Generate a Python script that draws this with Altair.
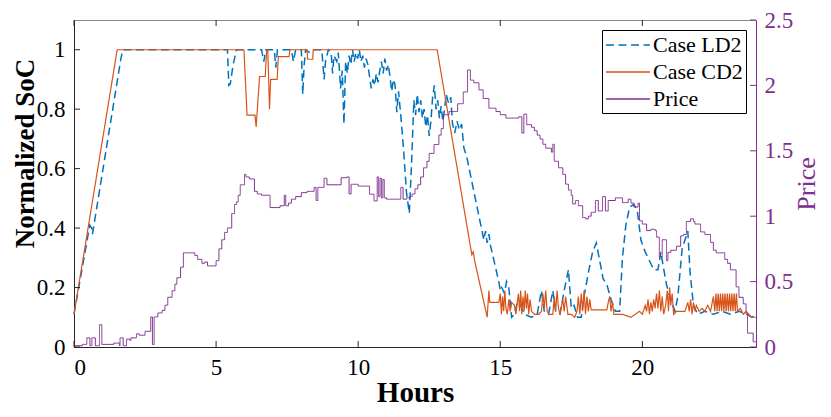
import altair as alt
import pandas as pd

# ---------------- data ----------------
ld2_points = [
    (0, 0.11), (0.5, 0.38), (0.55, 0.41), (0.62, 0.40), (0.65, 0.38), (1.65, 0.97), (1.72, 1.0),
    (5.4, 1.0), (5.45, 0.88), (5.5, 0.885), (5.6, 0.95), (5.72, 1.0), (6.6, 1.0), (6.68, 0.96),
    (6.75, 1.0), (7.05, 1.0), (7.1, 0.94), (7.16, 1.0), (7.65, 1.0), (7.72, 0.96), (7.8, 1.0),
    (8.0, 1.0), (8.05, 0.85), (8.1, 0.95), (8.15, 1.0), (8.3, 0.99), (8.45, 1.0), (8.72, 1.0),
    (8.8, 0.90), (8.85, 0.96), (8.95, 1.0), (9.05, 0.99), (9.1, 0.92), (9.15, 0.98), (9.25, 0.96),
    (9.3, 0.99), (9.38, 0.87), (9.44, 0.93), (9.5, 0.75), (9.56, 0.96), (9.62, 0.92), (9.68, 0.98),
    (9.74, 0.95), (9.8, 1.0), (9.86, 0.96), (9.92, 0.99), (9.98, 0.97), (10.04, 1.0), (10.1, 0.96),
    (10.16, 0.98), (10.22, 0.94), (10.28, 0.97), (10.34, 0.95), (10.4, 0.91), (10.46, 0.87),
    (10.52, 0.90), (10.58, 0.88), (10.64, 0.92), (10.7, 0.89), (10.76, 0.93), (10.82, 0.96),
    (10.88, 0.92), (10.94, 0.97), (11.0, 0.93), (11.06, 0.95), (11.12, 0.91), (11.18, 0.86),
    (11.24, 0.90), (11.3, 0.88), (11.36, 0.79), (11.42, 0.86), (11.5, 0.78), (11.6, 0.66),
    (11.7, 0.52), (11.8, 0.45), (11.88, 0.62), (11.96, 0.83), (12.02, 0.78), (12.08, 0.85),
    (12.14, 0.79), (12.2, 0.83), (12.26, 0.77), (12.32, 0.80), (12.38, 0.74), (12.44, 0.78),
    (12.5, 0.71), (12.56, 0.76), (12.62, 0.84), (12.68, 0.88), (12.74, 0.80), (12.8, 0.83),
    (12.86, 0.77), (12.92, 0.81), (12.98, 0.76), (13.04, 0.80), (13.1, 0.85), (13.18, 0.82),
    (13.26, 0.84), (13.32, 0.75), (13.4, 0.72), (13.48, 0.76), (13.56, 0.73), (13.64, 0.75),
    (13.72, 0.67), (13.82, 0.64), (14.25, 0.44), (14.36, 0.39), (14.42, 0.36), (14.48, 0.39),
    (14.54, 0.35), (14.6, 0.38), (14.66, 0.34), (14.95, 0.22), (15.0, 0.19), (15.05, 0.20),
    (15.15, 0.18), (15.22, 0.22), (15.3, 0.20), (15.4, 0.10), (15.5, 0.11), (15.6, 0.15),
    (15.72, 0.14), (15.85, 0.11), (16.1, 0.10), (16.3, 0.11), (16.45, 0.19), (16.55, 0.12),
    (16.7, 0.11), (16.85, 0.19), (16.95, 0.12), (17.1, 0.11), (17.25, 0.19), (17.4, 0.26),
    (17.5, 0.13), (17.6, 0.14), (17.72, 0.10), (17.85, 0.10), (17.95, 0.17), (18.1, 0.25),
    (18.25, 0.32), (18.38, 0.35), (18.5, 0.29), (18.62, 0.23), (18.75, 0.21), (18.9, 0.16),
    (19.05, 0.12), (19.2, 0.12), (19.3, 0.30), (19.42, 0.41), (19.55, 0.47), (19.7, 0.48),
    (19.82, 0.46), (19.95, 0.36), (20.1, 0.32), (20.25, 0.29), (20.4, 0.26), (20.55, 0.26),
    (20.65, 0.32), (20.72, 0.28), (20.85, 0.21), (21.0, 0.16), (21.15, 0.12), (21.25, 0.17),
    (21.4, 0.33), (21.6, 0.39), (21.68, 0.25), (21.8, 0.14), (21.95, 0.11), (22.2, 0.12),
    (22.5, 0.11), (22.8, 0.12), (23.1, 0.11), (23.4, 0.12), (23.7, 0.11), (23.85, 0.10), (24.0, 0.11),
]

cd2_points = [
    (0, 0.11), (1.52, 1.0), (5.98, 1.0), (6.09, 0.78), (6.37, 0.78), (6.41, 0.74), (6.53, 0.91),
    (6.73, 0.91), (6.78, 1.0), (6.82, 1.0), (6.88, 0.80), (6.92, 0.90), (7.15, 0.90), (7.19, 0.977),
    (7.57, 0.977), (7.6, 1.0), (8.2, 1.0), (8.22, 0.968), (8.4, 0.968), (8.42, 1.0), (12.78, 1.0),
    (14.0, 0.31), (14.05, 0.32), (14.1, 0.29), (14.54, 0.10), (14.6, 0.19), (14.63, 0.15),
    (14.95, 0.15), (15.0, 0.18), (15.04, 0.11), (15.08, 0.17), (15.12, 0.12), (15.16, 0.19),
    (15.2, 0.13), (15.25, 0.11), (15.3, 0.16), (15.35, 0.12), (15.4, 0.15), (15.5, 0.14),
    (15.55, 0.11), (15.6, 0.15), (15.64, 0.18), (15.68, 0.12), (15.72, 0.19), (15.76, 0.11),
    (15.8, 0.17), (15.84, 0.12), (15.88, 0.19), (15.92, 0.13), (15.96, 0.18), (16.0, 0.11),
    (16.05, 0.16), (16.1, 0.12), (16.2, 0.11), (16.35, 0.11), (16.45, 0.12), (16.5, 0.18),
    (16.55, 0.13), (16.6, 0.19), (16.65, 0.12), (16.72, 0.11), (16.85, 0.11), (16.9, 0.17),
    (16.95, 0.12), (17.0, 0.19), (17.05, 0.13), (17.1, 0.11), (17.2, 0.16), (17.25, 0.12),
    (17.3, 0.17), (17.38, 0.11), (17.5, 0.11), (17.62, 0.10), (17.7, 0.12), (17.75, 0.17),
    (17.8, 0.11), (17.85, 0.18), (17.9, 0.12), (17.95, 0.19), (18.0, 0.11), (18.05, 0.17),
    (18.1, 0.12), (18.15, 0.16), (18.2, 0.125), (18.75, 0.125), (18.8, 0.15), (18.85, 0.17),
    (18.9, 0.12), (18.95, 0.15), (19.0, 0.11), (19.3, 0.11), (19.6, 0.10), (19.9, 0.12),
    (20.0, 0.11), (20.1, 0.14), (20.15, 0.12), (20.2, 0.16), (20.25, 0.11), (20.3, 0.15),
    (20.35, 0.12), (20.4, 0.16), (20.45, 0.13), (20.5, 0.18), (20.55, 0.13), (20.6, 0.19),
    (20.65, 0.12), (20.7, 0.17), (20.75, 0.11), (20.82, 0.14), (20.88, 0.19), (20.92, 0.12),
    (20.96, 0.20), (21.0, 0.14), (21.05, 0.18), (21.1, 0.11), (21.2, 0.12), (21.5, 0.12),
    (21.6, 0.15), (21.65, 0.12), (21.7, 0.16), (21.75, 0.11), (21.8, 0.15), (21.85, 0.12),
    (21.9, 0.14), (22.0, 0.12), (22.1, 0.13), (22.2, 0.12), (22.3, 0.14), (22.4, 0.12),
    (22.5, 0.17), (22.55, 0.12), (22.59, 0.18), (22.63, 0.12), (22.67, 0.18), (22.71, 0.12),
    (22.75, 0.18), (22.79, 0.12), (22.83, 0.18), (22.87, 0.12), (22.91, 0.18), (22.95, 0.12),
    (22.99, 0.18), (23.03, 0.12), (23.07, 0.18), (23.11, 0.12), (23.15, 0.18), (23.19, 0.12),
    (23.23, 0.18), (23.27, 0.12), (23.31, 0.18), (23.35, 0.12), (23.45, 0.13), (23.55, 0.11),
    (23.65, 0.12), (23.75, 0.11), (23.85, 0.10), (24.0, 0.10),
]

price_points = [
    (0, 0.01), (0.3, 0.02), (0.45, 0.07), (0.56, 0.01), (0.63, 0.07), (0.75, 0.01), (0.9, 0.17),
    (0.98, 0.02), (1.4, 0.03), (1.6, 0.01), (1.62, 0.07), (1.73, 0.01), (1.85, 0.06), (1.97, 0.05),
    (2.0, 0.07), (2.2, 0.10), (2.3, 0.09), (2.5, 0.12), (2.7, 0.23), (2.76, 0.02), (2.82, 0.23),
    (2.95, 0.26), (3.1, 0.28), (3.2, 0.32), (3.3, 0.38), (3.45, 0.43), (3.55, 0.48), (3.62, 0.53),
    (3.75, 0.61), (3.85, 0.72), (4.25, 0.70), (4.35, 0.67), (4.5, 0.64), (4.6, 0.65), (4.7, 0.62),
    (5.0, 0.66), (5.1, 0.75), (5.2, 0.82), (5.3, 0.876), (5.4, 0.91), (5.55, 1.02), (5.65, 1.09),
    (5.72, 1.11), (5.78, 1.16), (5.85, 1.24), (6.0, 1.32), (6.05, 1.30), (6.17, 1.285), (6.35, 1.19),
    (6.45, 1.17), (6.6, 1.16), (6.9, 1.066), (7.25, 1.08), (7.4, 1.16), (7.45, 1.08), (7.55, 1.10),
    (7.65, 1.13), (7.8, 1.15), (8.0, 1.18), (8.2, 1.19), (8.45, 1.22), (8.52, 1.12), (8.58, 1.22),
    (8.8, 1.29), (8.9, 1.24), (9.4, 1.294), (9.6, 1.30), (9.68, 1.17), (9.75, 1.244), (10.0, 1.23),
    (10.2, 1.23), (10.4, 1.168), (10.56, 1.117), (10.67, 1.30), (10.72, 1.15), (10.77, 1.29),
    (10.82, 1.14), (10.87, 1.28), (10.92, 1.14), (11.0, 1.13), (11.5, 1.22), (11.58, 1.13),
    (11.7, 1.14), (11.8, 1.15), (11.9, 1.17), (12.0, 1.21), (12.1, 1.24), (12.2, 1.30),
    (12.3, 1.37), (12.42, 1.42), (12.5, 1.48), (12.67, 1.548), (12.84, 1.62), (12.92, 1.67),
    (13.0, 1.776), (13.2, 1.80), (13.5, 1.86), (13.7, 1.95), (13.85, 2.118), (13.95, 2.04),
    (14.07, 2.02), (14.25, 1.966), (14.4, 1.90), (14.6, 1.826), (14.85, 1.80), (15.0, 1.776),
    (15.2, 1.75), (15.65, 1.76), (15.76, 1.636), (15.83, 1.78), (15.93, 1.70), (16.1, 1.68),
    (16.2, 1.654), (16.3, 1.62), (16.4, 1.59), (16.5, 1.55), (16.6, 1.52), (16.8, 1.49),
    (16.85, 1.55), (16.9, 1.42), (17.05, 1.37), (17.2, 1.32), (17.3, 1.245), (17.4, 1.20),
    (17.5, 1.16), (17.55, 1.094), (17.65, 1.12), (17.75, 1.08), (17.9, 0.99), (18.0, 0.98),
    (18.1, 1.00), (18.2, 1.03), (18.35, 1.12), (18.45, 1.04), (18.6, 1.15), (18.7, 1.04),
    (18.8, 1.12), (18.9, 1.12), (19.05, 1.14), (19.3, 1.104), (19.5, 1.13), (19.6, 1.10),
    (19.7, 1.07), (19.85, 1.10), (19.9, 0.965), (20.0, 0.94), (20.15, 0.89), (20.3, 0.90),
    (20.45, 0.89), (20.5, 0.84), (20.6, 0.69), (20.7, 0.82), (20.85, 0.66), (20.9, 0.724),
    (21.0, 0.74), (21.2, 0.77), (21.35, 0.85), (21.45, 0.86), (21.55, 0.96), (21.7, 0.98),
    (21.8, 0.96), (21.85, 0.94), (22.05, 0.88), (22.2, 0.86), (22.4, 0.80), (22.5, 0.74),
    (22.6, 0.72), (22.9, 0.67), (23.0, 0.64), (23.1, 0.59), (23.3, 0.46), (23.4, 0.38),
    (23.55, 0.33), (23.65, 0.25), (23.7, 0.106), (23.9, 0.04), (24.0, 0.04),
]

hour_ticks = [0, 5, 10, 15, 20]
soc_ticks = [0, 0.2, 0.4, 0.6, 0.8, 1]
price_ticks = [0, 0.5, 1, 1.5, 2, 2.5]
series_names = ["Case LD2", "Case CD2", "Price"]
series_colors = ["#0072BD", "#D95319", "#7E2F8E"]

# ---------------- styling ----------------
W, H = 682, 327
FONT = "Liberation Serif, Times New Roman, DejaVu Serif, serif"
DARK = "#262626"
PURPLE = "#7E2F8E"
TICK = 6


def frame(points, name):
    return pd.DataFrame({"hours": [p[0] for p in points],
                         "value": [p[1] for p in points],
                         "series": name})


df_ld2 = frame(ld2_points, "Case LD2")
df_cd2 = frame(cd2_points, "Case CD2")
df_price = frame(price_points, "Price")

x_scale = alt.Scale(domain=[0, 24], nice=False, zero=False)
soc_scale = alt.Scale(domain=[0, 1.1], nice=False)
price_scale = alt.Scale(domain=[0, 2.5], nice=False)
color_scale = alt.Scale(domain=series_names, range=series_colors)
dash_scale = alt.Scale(domain=series_names, range=[[8, 4.5], [1, 0], [1, 0]])

x_axis = alt.Axis(values=hour_ticks, format="~g", title="Hours", ticks=False, grid=False,
                  labelFont=FONT, labelFontSize=23, labelColor="#000", labelPadding=9,
                  domainColor=DARK, titleFont=FONT, titleFontSize=29, titleFontWeight="bold",
                  titleColor="#000", titleY=54, titleBaseline="alphabetic")
left_axis = alt.Axis(values=soc_ticks, format="~g", title="Normalized SoC", orient="left",
                     ticks=False, grid=False, labelFont=FONT, labelFontSize=23, labelColor="#000",
                     labelPadding=9, domainColor=DARK, titleFont=FONT, titleFontSize=27,
                     titleFontWeight="bold", titleColor="#000", titleAngle=270, titleX=-49,
                     titleY=133, titleBaseline="middle", titleAlign="center")
right_axis = alt.Axis(values=price_ticks, format="~g", title="Price", orient="right",
                      ticks=False, grid=False, labelFont=FONT, labelFontSize=23,
                      labelColor=PURPLE, labelPadding=8, domainColor=PURPLE, titleFont=FONT,
                      titleFontSize=26, titleFontWeight="normal", titleColor=PURPLE,
                      titleAngle=270, titleX=50, titleY=H / 2, titleBaseline="middle",
                      titleAlign="center")

legend = alt.Legend(title=None, orient="none", legendX=528, legendY=10,
                    symbolType="M-1,0H3", symbolSize=484, symbolStrokeWidth=1.5,
                    labelFont=FONT, labelFontSize=22, labelColor="#000", labelOffset=24,
                    rowPadding=4, padding=3, strokeColor="#000", fillColor="white",
                    cornerRadius=0)

color_enc = alt.Color("series:N", scale=color_scale, legend=legend)
dash_enc = alt.StrokeDash("series:N", scale=dash_scale, legend=legend)
x_enc = alt.X("hours:Q", scale=x_scale, axis=x_axis)


def soc_line(df, width):
    return alt.Chart(df).mark_line(strokeWidth=width).encode(
        x=x_enc, y=alt.Y("value:Q", scale=soc_scale, axis=left_axis),
        color=color_enc, strokeDash=dash_enc, order="hours:Q")


ld2 = soc_line(df_ld2, 1.5)
cd2 = soc_line(df_cd2, 1.2)

hour_df = pd.DataFrame({"hours": hour_ticks})
bottom_ticks = alt.Chart(hour_df).mark_rule(color=DARK, strokeWidth=1).encode(
    x=x_enc, y=alt.value(H), y2=alt.value(H - TICK))
top_ticks = alt.Chart(hour_df).mark_rule(color=DARK, strokeWidth=1).encode(
    x=x_enc, y=alt.value(0), y2=alt.value(TICK))
left_ticks = alt.Chart(pd.DataFrame({"value": soc_ticks})).mark_rule(color=DARK, strokeWidth=1).encode(
    y=alt.Y("value:Q", scale=soc_scale, axis=left_axis), x=alt.value(0), x2=alt.value(TICK))

left_layer = alt.layer(ld2, cd2, left_ticks, bottom_ticks, top_ticks)

price_line = alt.Chart(df_price).mark_line(strokeWidth=1, interpolate="step-after").encode(
    x=x_enc, y=alt.Y("value:Q", scale=price_scale, axis=right_axis),
    color=color_enc, strokeDash=dash_enc, order="hours:Q")
right_ticks = alt.Chart(pd.DataFrame({"value": price_ticks})).mark_rule(color=PURPLE, strokeWidth=1).encode(
    y=alt.Y("value:Q", scale=price_scale, axis=right_axis), x=alt.value(W - TICK), x2=alt.value(W))

right_layer = alt.layer(price_line, right_ticks)

chart = alt.layer(left_layer, right_layer).resolve_scale(y="independent").properties(
    width=W, height=H,
    padding={"left": 66, "top": 12, "right": 67, "bottom": 61},
    autosize=alt.AutoSizeParams(type="none"),
).configure_view(stroke="#8c8c8c", strokeWidth=1)

chart.save("out.html", embed_options={"renderer": "svg", "actions": False})
